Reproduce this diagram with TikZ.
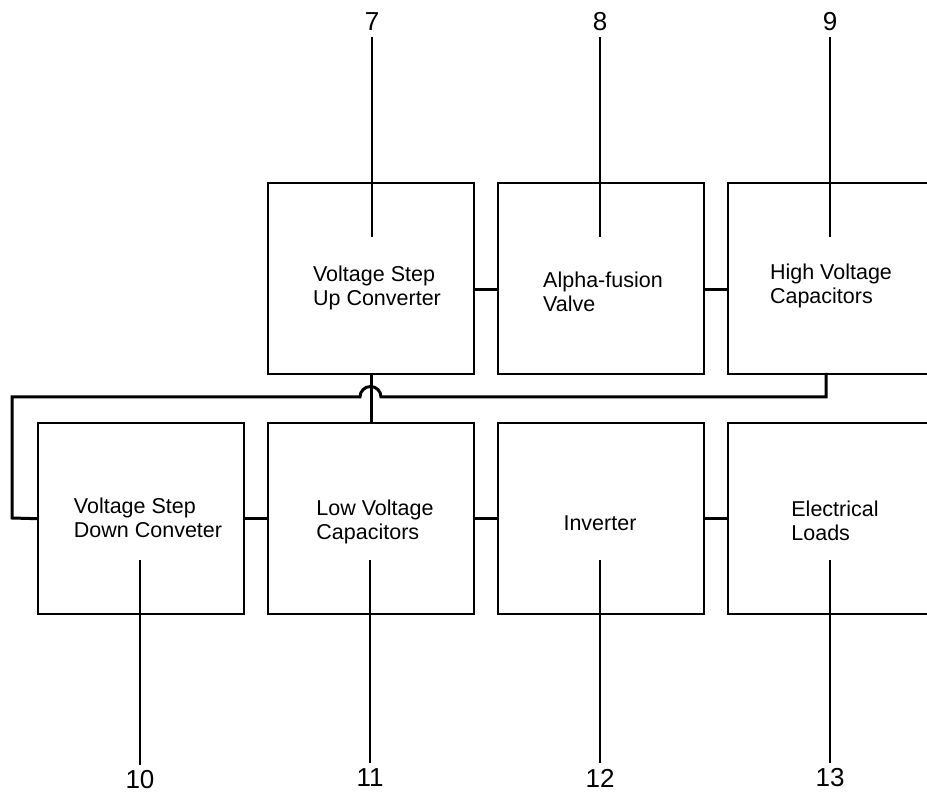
\documentclass[tikz,border=0pt]{standalone}
\usepackage{fontspec}
\setmainfont{Liberation Sans}
\begin{document}
\begin{tikzpicture}[x=1pt,y=-1pt,
  box/.style={draw,line width=2.4pt,minimum width=206pt,minimum height=191pt,inner sep=0pt,anchor=north west},
  txt/.style={align=left,font=\fontsize{21.5}{24.5}\selectfont,inner sep=0pt},
  num/.style={font=\fontsize{26}{28}\selectfont,inner sep=0pt},
  wire/.style={line width=3pt},
  lead/.style={line width=2pt}]
\clip (0,0) rectangle (927,799);
\fill[white] (0,0) rectangle (927,799);
% boxes
\node[box] (b7) at (267,182) {};
\node[box] (b8) at (497,182) {};
\node[box] (b9) at (727,182) {};
\node[box] (b10) at (37,422) {};
\node[box] (b11) at (267,422) {};
\node[box] (b12) at (497,422) {};
\node[box] (b13) at (727,422) {};
% texts
\node[txt] (t7) at (377,288) {Voltage Step\\Up Converter};
\node[txt] (t8) at (603,292) {Alpha-fusion\\Valve};
\node[txt] (t9) at (831,286) {High Voltage\\Capacitors};
\node[txt] (t10) at (148,518) {Voltage Step\\Down Conveter};
\node[txt] (t11) at (375,522) {Low Voltage\\Capacitors};
\node[txt] (t12) at (600,523) {Inverter};
\node[txt] (t13) at (835,521) {Electrical\\Loads};
% connectors
\draw[wire] ([yshift=-11pt]b7.east) -- ([yshift=-11pt]b8.west);
\draw[wire] ([yshift=-11pt]b8.east) -- ([yshift=-11pt]b9.west);
\draw[wire] (b10.east) -- (b11.west);
\draw[wire] (b11.east) -- (b12.west);
\draw[wire] (b12.east) -- (b13.west);
\draw[wire] (b7.south) -- (b11.north);
\coordinate (c9) at (826,373);
\draw[wire] (c9) -- (826,397) -- (381,397) arc[start angle=0,end angle=180,radius=10.5pt] -- (12,397) -- (12,518) -- (b10.west);
% numbers and leader lines
\node[num] (n7) at (372,22) {7};
\node[num] (n8) at (600,22) {8};
\node[num] (n9) at (830,22) {9};
\node[num] (n10) at (140,780) {10};
\node[num] (n11) at (370,778) {11};
\node[num] (n12) at (600,778) {12};
\node[num] (n13) at (830,778) {13};
\coordinate (e7) at (372,237);
\coordinate (e8) at (600,237);
\coordinate (e9) at (830,237);
\coordinate (e10) at (140,560);
\coordinate (e11) at (370,560);
\coordinate (e12) at (600,560);
\coordinate (e13) at (830,560);
\draw[lead] ([yshift=-6pt]n7.south) -- (e7);
\draw[lead] ([yshift=-6pt]n8.south) -- (e8);
\draw[lead] ([yshift=-6pt]n9.south) -- (e9);
\draw[lead] ([yshift=6pt]n10.north) -- (e10);
\draw[lead] ([yshift=6pt]n11.north) -- (e11);
\draw[lead] ([yshift=6pt]n12.north) -- (e12);
\draw[lead] ([yshift=6pt]n13.north) -- (e13);
\end{tikzpicture}
\end{document}
